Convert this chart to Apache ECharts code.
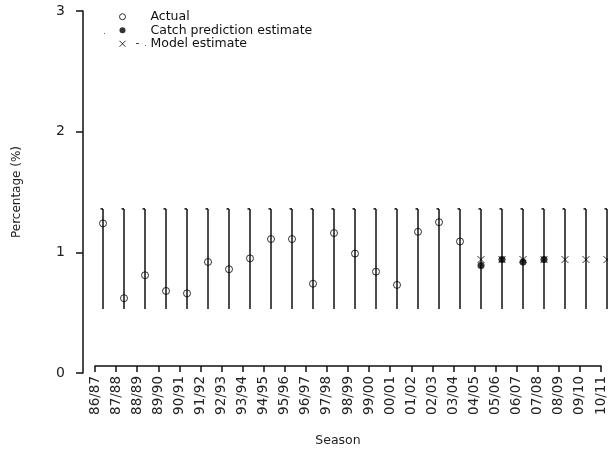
<!DOCTYPE html>
<html>
<head>
<meta charset="utf-8">
<script src="https://cdn.jsdelivr.net/npm/echarts@6/dist/echarts.min.js"></script>
<style>
  html, body { margin: 0; padding: 0; background: #fff; }
  #chart { width: 608px; height: 452px; }
</style>
</head>
<body>
<div id="chart"></div>
<script>
// Seasons on the x axis
const seasons = ['86/87', '87/88', '88/89', '89/90', '90/91', '91/92', '92/93', '93/94',
  '94/95', '95/96', '96/97', '97/98', '98/99', '99/00', '00/01', '01/02', '02/03', '03/04',
  '04/05', '05/06', '06/07', '07/08', '08/09', '09/10', '10/11'];

// Observed percentage per season
const actual = [1.24, 0.62, 0.81, 0.68, 0.66, 0.92, 0.86, 0.95, 1.11, 1.11, 0.74, 1.16,
  0.99, 0.84, 0.73, 1.17, 1.25, 1.09, null, null, null, null, null, null, null];

// Estimates from the catch prediction
const catchPrediction = [null, null, null, null, null, null, null, null, null, null, null, null,
  null, null, null, null, null, null, 0.89, 0.94, 0.92, 0.94, null, null, null];

// Estimates from the model
const modelEstimate = [null, null, null, null, null, null, null, null, null, null, null, null,
  null, null, null, null, null, null, 0.94, 0.94, 0.94, 0.94, 0.94, 0.94, 0.94];

// Range limits drawn as vertical bars for each season
const lowerLimit = [0.53, 0.53, 0.53, 0.53, 0.53, 0.53, 0.53, 0.53, 0.53, 0.53, 0.53, 0.53,
  0.53, 0.53, 0.53, 0.53, 0.53, 0.53, 0.53, 0.53, 0.53, 0.53, 0.53, 0.53, 0.53];
const upperLimit = [1.36, 1.36, 1.36, 1.36, 1.36, 1.36, 1.36, 1.36, 1.36, 1.36, 1.36, 1.36,
  1.36, 1.36, 1.36, 1.36, 1.36, 1.36, 1.36, 1.36, 1.36, 1.36, 1.36, 1.36, 1.36];

// Y axis ticks
const yTicks = [0, 1, 2, 3];

const FONT = 'DejaVu Sans';
const INK = '#111';
const CROSS = 'path://M0,0L10,10M10,0L0,10';

const toPoints = arr => arr.map((v, i) => (v == null ? null : [i, v]));
const rangeData = seasons.map((s, i) => [i, lowerLimit[i], upperLimit[i]]);

const chart = echarts.init(document.getElementById('chart'), null, { renderer: 'canvas' });

chart.setOption({
  backgroundColor: '#fff',
  animation: false,
  textStyle: { fontFamily: FONT },
  grid: [
    // plotting area
    { left: 94, right: 0, top: 11, bottom: 79 },
    // season tick axis
    { left: 95, right: 3, top: 11, bottom: 79 }
  ],
  xAxis: [
    {
      type: 'value', gridIndex: 0, show: false,
      min: -9 / 21, max: 24.0476
    },
    {
      type: 'category', gridIndex: 1, data: seasons, boundaryGap: false, offset: 1,
      axisLine: { onZero: false, lineStyle: { color: INK, width: 1.5 } },
      axisTick: { length: 6, lineStyle: { color: INK, width: 1.5 }, interval: 0 },
      axisLabel: {
        rotate: 90, interval: 0, margin: 10, fontSize: 13.5, color: '#222', fontFamily: FONT
      },
      name: 'Season', nameLocation: 'middle', nameGap: 68,
      nameTextStyle: { fontSize: 12.5, color: '#222', fontFamily: FONT, padding: [0, 20, 0, 0] }
    }
  ],
  yAxis: [
    {
      type: 'value', gridIndex: 0, min: yTicks[0], max: yTicks[yTicks.length - 1], interval: 1,
      offset: 11,
      axisLine: { show: true, onZero: false, lineStyle: { color: INK, width: 1.5 } },
      axisTick: { show: true, length: 7, lineStyle: { color: INK, width: 1.5 } },
      axisLabel: { margin: 18, fontSize: 14, color: '#222', fontFamily: FONT },
      splitLine: { show: false },
      name: 'Percentage (%)', nameLocation: 'middle', nameGap: 60,
      nameTextStyle: { fontSize: 12, color: '#222', fontFamily: FONT }
    },
    { type: 'value', gridIndex: 1, show: false, min: 0, max: 3 }
  ],
  legend: {
    orient: 'vertical', left: 114, top: 5,
    itemWidth: 46, itemHeight: 6, itemGap: 0, selectedMode: false,
    textStyle: { fontSize: 12.5, color: '#111', fontFamily: FONT, lineHeight: 13.5 },
    data: [
      { name: 'Actual', icon: 'circle', itemStyle: { color: '#fff', borderColor: '#000', borderWidth: 1 } },
      { name: 'Catch prediction estimate', icon: 'circle', itemStyle: { color: '#000', borderColor: '#000', borderWidth: 0 } },
      { name: 'Model estimate', icon: CROSS, itemStyle: { color: 'transparent', borderColor: '#000', borderWidth: 1 } }
    ]
  },
  graphic: [
    // short legend line stubs
    { type: 'rect', shape: { x: 104, y: 33, width: 1, height: 1 }, style: { fill: '#666' } },
    { type: 'rect', shape: { x: 136, y: 43, width: 3, height: 1 }, style: { fill: '#444' } },
    { type: 'rect', shape: { x: 145, y: 45, width: 1, height: 1 }, style: { fill: '#666' } }
  ],
  series: [
    {
      name: 'Range', type: 'custom', xAxisIndex: 0, yAxisIndex: 0,
      data: rangeData,
      encode: { x: 0, y: [1, 2] },
      renderItem: function (params, api) {
        const lo = api.coord([api.value(0), api.value(1)]);
        const hi = api.coord([api.value(0), api.value(2)]);
        const style = { stroke: INK, lineWidth: 1.5 };
        return {
          type: 'group',
          children: [
            { type: 'line', shape: { x1: lo[0], y1: lo[1], x2: hi[0], y2: hi[1] }, style: style },
            { type: 'line', shape: { x1: hi[0] - 2.5, y1: hi[1], x2: hi[0], y2: hi[1] }, style: style }
          ]
        };
      }
    },
    {
      name: 'Actual', type: 'scatter', xAxisIndex: 0, yAxisIndex: 0,
      data: toPoints(actual), symbol: 'circle', symbolSize: 7,
      itemStyle: { color: 'transparent', borderColor: '#000', borderWidth: 1 }
    },
    {
      name: 'Model estimate', type: 'scatter', xAxisIndex: 0, yAxisIndex: 0,
      data: toPoints(modelEstimate), symbol: CROSS, symbolSize: 7,
      itemStyle: { color: 'transparent', borderColor: '#000', borderWidth: 1 }
    },
    {
      name: 'Catch prediction estimate', type: 'scatter', xAxisIndex: 0, yAxisIndex: 0,
      data: toPoints(catchPrediction), symbol: 'circle', symbolSize: 7,
      itemStyle: { color: '#000' }
    }
  ]
});
</script>
</body>
</html>
